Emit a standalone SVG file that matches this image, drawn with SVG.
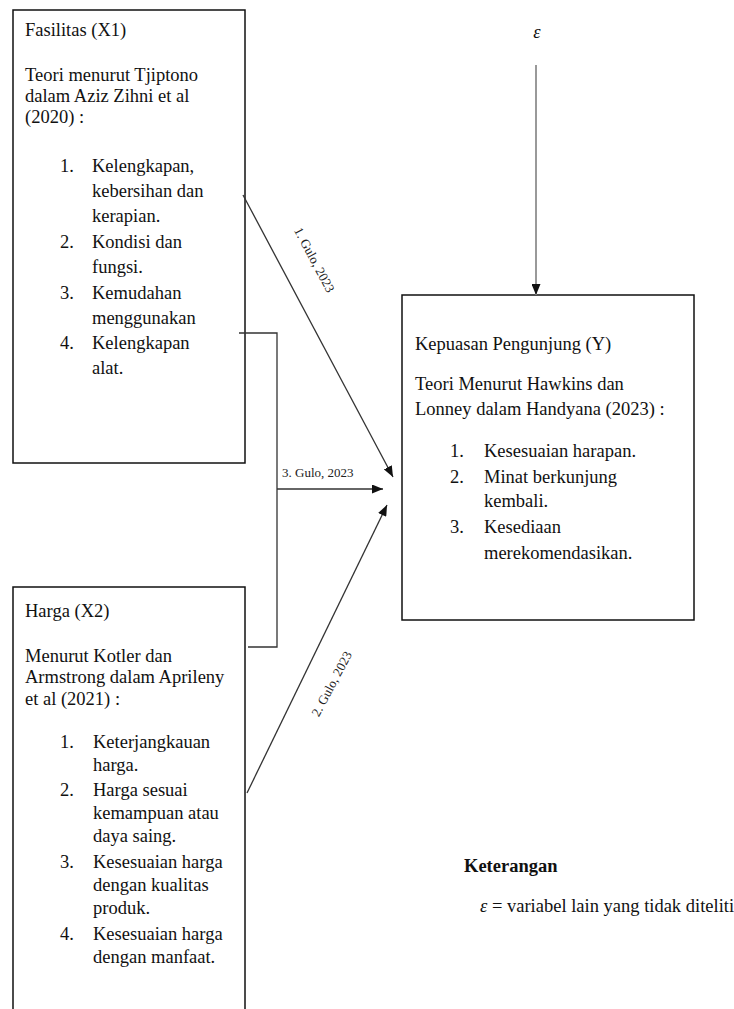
<svg xmlns="http://www.w3.org/2000/svg" width="734" height="1009" viewBox="0 0 734 1009">
<style>
.bg{fill:#fff}
.box{fill:#fff;stroke:#111;stroke-width:1.5}
.t{font-family:'Liberation Serif','Times New Roman',serif;font-size:18.5px;fill:#111}
.b{font-weight:bold}
.lab{font-family:'Liberation Serif','Times New Roman',serif;font-size:13px;fill:#222}
.conn{stroke:#333;stroke-width:1.3;fill:none}
.eps{stroke:#999;stroke-width:2;fill:none}
</style>
<defs>
<marker id="ah" markerUnits="userSpaceOnUse" markerWidth="11" markerHeight="9" refX="11" refY="4.5" orient="auto">
<path d="M0,0 L11,4.5 L0,9 Z" fill="#111"/>
</marker>
</defs>
<rect class="bg" x="0" y="0" width="734" height="1009"/>

<g id="node-x1">
<rect class="box" x="13" y="10" width="232" height="453"/>
<text class="t" x="25" y="36">Fasilitas (X1)</text>
<text class="t" x="25" y="81">Teori menurut Tjiptono</text>
<text class="t" x="25" y="102">dalam Aziz Zihni et al</text>
<text class="t" x="25" y="123">(2020) :</text>
<text class="t" x="60" y="172">1.</text><text class="t" x="92" y="172">Kelengkapan,</text>
<text class="t" x="92" y="197">kebersihan dan</text>
<text class="t" x="92" y="222">kerapian.</text>
<text class="t" x="60" y="248">2.</text><text class="t" x="92" y="248">Kondisi dan</text>
<text class="t" x="92" y="273">fungsi.</text>
<text class="t" x="60" y="299">3.</text><text class="t" x="92" y="299">Kemudahan</text>
<text class="t" x="92" y="324">menggunakan</text>
<text class="t" x="60" y="349">4.</text><text class="t" x="92" y="349">Kelengkapan</text>
<text class="t" x="92" y="374">alat.</text>
</g>

<g id="node-x2">
<rect class="box" x="13" y="587" width="232" height="430"/>
<text class="t" x="25" y="617">Harga (X2)</text>
<text class="t" x="25" y="662">Menurut Kotler dan</text>
<text class="t" x="25" y="683">Armstrong dalam Aprileny</text>
<text class="t" x="25" y="705">et al (2021) :</text>
<text class="t" x="60" y="748">1.</text><text class="t" x="93" y="748">Keterjangkauan</text>
<text class="t" x="93" y="771">harga.</text>
<text class="t" x="60" y="796">2.</text><text class="t" x="93" y="796">Harga sesuai</text>
<text class="t" x="93" y="819">kemampuan atau</text>
<text class="t" x="93" y="842">daya saing.</text>
<text class="t" x="60" y="868">3.</text><text class="t" x="93" y="868">Kesesuaian harga</text>
<text class="t" x="93" y="891">dengan kualitas</text>
<text class="t" x="93" y="914">produk.</text>
<text class="t" x="60" y="940">4.</text><text class="t" x="93" y="940">Kesesuaian harga</text>
<text class="t" x="93" y="963">dengan manfaat.</text>
</g>

<g id="node-y">
<rect class="box" x="402" y="295" width="292" height="325"/>
<text class="t" x="415" y="350">Kepuasan  Pengunjung (Y)</text>
<text class="t" x="415" y="390">Teori Menurut Hawkins dan</text>
<text class="t" x="415" y="415">Lonney dalam Handyana (2023) :</text>
<text class="t" x="450" y="457">1.</text><text class="t" x="484" y="457">Kesesuaian harapan.</text>
<text class="t" x="450" y="483">2.</text><text class="t" x="484" y="483">Minat berkunjung</text>
<text class="t" x="484" y="507">kembali.</text>
<text class="t" x="450" y="533">3.</text><text class="t" x="484" y="533">Kesediaan</text>
<text class="t" x="484" y="559">merekomendasikan.</text>
</g>

<g id="node-epsilon">
<text class="t" x="537" y="38" text-anchor="middle" font-style="italic" font-size="16">ε</text>
</g>

<g id="legend">
<text class="t b" x="464" y="872">Keterangan</text>
<text class="t" x="480" y="912"><tspan font-style="italic">ε</tspan> = variabel lain yang tidak diteliti</text>
</g>

<g id="connectors">
<line class="eps" x1="536" y1="65" x2="536" y2="295" marker-end="url(#ah)"/>
<line class="conn" x1="243" y1="195" x2="393" y2="477" marker-end="url(#ah)"/>
<path class="conn" d="M239,333 H277 V647 H248"/>
<line class="conn" x1="277" y1="489" x2="383" y2="489" marker-end="url(#ah)"/>
<line class="conn" x1="247" y1="793" x2="387" y2="505" marker-end="url(#ah)"/>
<text class="lab" transform="translate(314,260) rotate(62)" text-anchor="middle" y="4">1. Gulo, 2023</text>
<text class="lab" x="282" y="477">3. Gulo, 2023</text>
<text class="lab" transform="translate(332,684) rotate(-62)" text-anchor="middle" y="4">2. Gulo, 2023</text>
</g>
</svg>
